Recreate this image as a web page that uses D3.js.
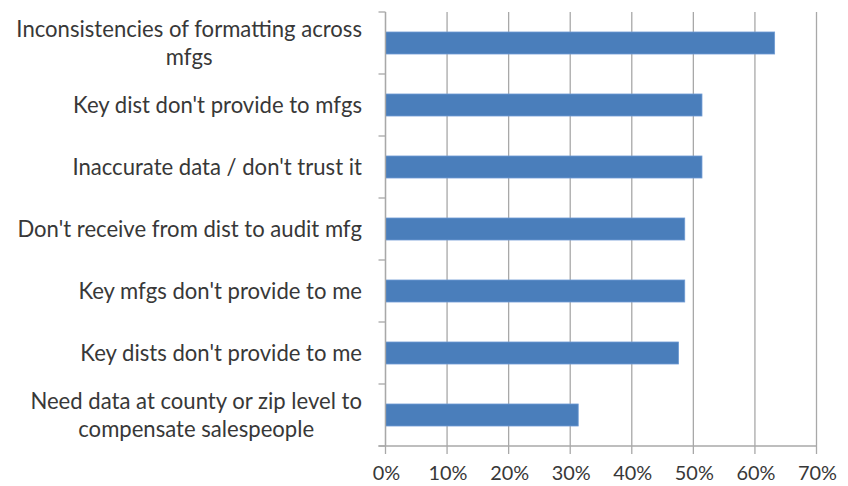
<!DOCTYPE html>
<html>
<head>
<meta charset="utf-8">
<script src="https://cdn.jsdelivr.net/npm/d3@7/dist/d3.min.js"></script>
<style>
  html, body { margin: 0; padding: 0; background: #ffffff; }
  svg { display: block; }
  text { font-family: Lato, "Open Sans", sans-serif; fill: #383838; }
</style>
</head>
<body>
<svg id="chart" width="848" height="486"></svg>
<script>
// Survey responses: share of respondents citing each issue
const categories = [
  "Inconsistencies of formatting across\nmfgs",
  "Key dist don't provide to mfgs",
  "Inaccurate data / don't trust it",
  "Don't receive from dist to audit mfg",
  "Key mfgs don't provide to me",
  "Key dists don't provide to me",
  "Need data at county or zip level to\ncompensate salespeople"
];
const values = [63.2, 51.4, 51.4, 48.6, 48.6, 47.6, 31.3];
const xTicks = [0, 10, 20, 30, 40, 50, 60, 70];
const tickLabels = ["0%", "10%", "20%", "30%", "40%", "50%", "60%", "70%"];

const svg = d3.select("#chart");

const plot = { left: 385.5, right: 816.5, top: 12, bottom: 446 };

const x = d3.scaleLinear().domain([0, 70]).range([plot.left, plot.right]);
const y = d3.scaleBand()
  .domain(categories)
  .range([plot.top, plot.bottom])
  .paddingInner(0.645)
  .paddingOuter(0.3225);

const step = y.step();
const gridColor = "#a8a8a8";

// vertical gridlines, extending below the axis as tick marks
svg.append("g")
  .selectAll("line")
  .data(xTicks)
  .join("line")
  .attr("x1", d => x(d)).attr("x2", d => x(d))
  .attr("y1", plot.top).attr("y2", plot.bottom + 8)
  .attr("stroke", gridColor)
  .attr("stroke-width", 1.3);

// bars
svg.append("g")
  .selectAll("rect")
  .data(categories)
  .join("rect")
  .attr("x", x(0))
  .attr("y", d => y(d))
  .attr("width", (d, i) => x(values[i]) - x(0))
  .attr("height", y.bandwidth())
  .attr("fill", "#4a7ebb")
  .attr("stroke", "#6f9bd4")
  .attr("stroke-width", 0.8);

// category axis line and ticks at band boundaries
const axisG = svg.append("g");
axisG.append("line")
  .attr("x1", x(0)).attr("x2", x(0))
  .attr("y1", plot.top).attr("y2", plot.bottom)
  .attr("stroke", gridColor).attr("stroke-width", 1.3);
axisG.selectAll("line.cat-tick")
  .data(d3.range(categories.length + 1))
  .join("line")
  .attr("class", "cat-tick")
  .attr("x1", x(0) - 7).attr("x2", x(0))
  .attr("y1", i => plot.top + i * step)
  .attr("y2", i => plot.top + i * step)
  .attr("stroke", gridColor).attr("stroke-width", 1.3);
// value axis baseline
axisG.append("line")
  .attr("x1", x(0) - 7).attr("x2", x(70))
  .attr("y1", plot.bottom).attr("y2", plot.bottom)
  .attr("stroke", gridColor).attr("stroke-width", 1.3);

// fit a font size so a reference string spans a target width
function fitSize(str, target) {
  const t = svg.append("text").style("font-size", "20px").text(str);
  const w = t.node().getComputedTextLength();
  t.remove();
  return 20 * target / w;
}
const catSize = fitSize("Key dist don't provide to mfgs", 289);
const tickSize = fitSize("10%", 39);

// category labels: block right-aligned to the axis, lines centred within the block
const labelRight = 362;
const lineGap = 28;
const labels = svg.append("g");
categories.forEach(cat => {
  const lines = cat.split("\n");
  const g = labels.append("g");
  const texts = lines.map((ln, i) =>
    g.append("text")
      .style("font-size", catSize + "px")
      .attr("text-anchor", "middle")
      .attr("y", y(cat) + y.bandwidth() / 2 + (i - (lines.length - 1) / 2) * lineGap)
      .attr("dy", "0.36em")
      .text(ln)
  );
  const maxW = d3.max(texts, t => t.node().getComputedTextLength());
  texts.forEach(t => t.attr("x", labelRight - maxW / 2));
});

// value tick labels
svg.append("g")
  .selectAll("text")
  .data(xTicks)
  .join("text")
  .style("font-size", tickSize + "px")
  .attr("text-anchor", "middle")
  .attr("x", d => x(d) + 1)
  .attr("y", 480)
  .text((d, i) => tickLabels[i]);
</script>
</body>
</html>
